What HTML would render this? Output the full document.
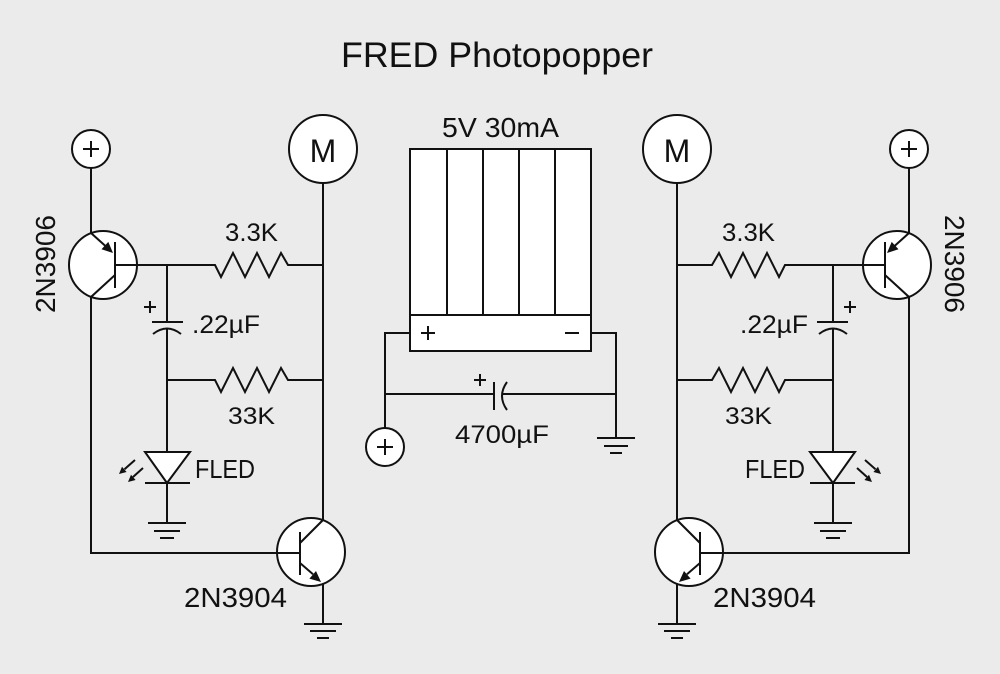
<!DOCTYPE html>
<html>
<head>
<meta charset="utf-8">
<style>
  html, body { margin: 0; padding: 0; background: #ebebeb; }
  svg { display: block; }
  text { font-family: "Liberation Sans", "DejaVu Sans", sans-serif; fill: #111; }
</style>
</head>
<body>
<svg width="1000" height="674" viewBox="0 0 1000 674" xmlns="http://www.w3.org/2000/svg">
  <rect x="0" y="0" width="1000" height="674" fill="#ebebeb"/>

  <defs>
    <g id="half" stroke="#111" stroke-width="2" fill="none" stroke-linecap="butt">
      <!-- circles -->
      <circle cx="91" cy="149" r="19" fill="#fff"/>
      <circle cx="323" cy="149" r="34" fill="#fff"/>
      <circle cx="103" cy="265" r="34" fill="#fff"/>
      <circle cx="311" cy="552" r="34" fill="#fff"/>
      <!-- plus in circle -->
      <path d="M83 149 H99 M91 141 V157"/>
      <!-- PNP -->
      <path d="M91 168 V233 L106 246.5"/>
      <polygon points="113,253 101.5,249.3 108.3,241.9" fill="#111" stroke="none"/>
      <path d="M115 242 V288"/>
      <path d="M115 275 L91 297 V553 H300"/>
      <path d="M115 265 H215 L221 277 L233 253 L245 277 L257 253 L269 277 L281 253 L288 265 H323"/>
      <!-- motor wire -->
      <path d="M323 183 V520"/>
      <!-- cap .22uF -->
      <path d="M167 265 V322"/>
      <path d="M152 322 H183"/>
      <path d="M153 334 Q167 323 181 334"/>
      <path d="M144 307 H156 M150 301 V313"/>
      <path d="M167 329 V452"/>
      <!-- 33K -->
      <path d="M167 380 H215 L221 392 L233 368 L245 392 L257 368 L269 392 L281 368 L288 380 H323"/>
      <!-- LED -->
      <polygon points="145,452 190,452 167,483" fill="#fff"/>
      <path d="M145 483 H190 M167 483 V523"/>
      <path d="M148 523 H186 M154 531 H180 M160 538 H174"/>
      <path d="M135 460 L124.5 469.2 M143 468 L133 477"/>
      <polygon points="119,474 126.6,472 122,466.8" fill="#111" stroke="none"/>
      <polygon points="128,482 135.6,480 131,474.8" fill="#111" stroke="none"/>
      <!-- NPN -->
      <path d="M300 532 V575"/>
      <path d="M300 543 L323 520"/>
      <path d="M300 563 L313 574.3"/>
      <polygon points="321,582 309.4,578.6 316,571" fill="#111" stroke="none"/>
      <path d="M323 584 V624"/>
      <path d="M304 624 H342 M310 631 H336 M317 638 H329"/>
    </g>
  </defs>

  <use href="#half"/>
  <use href="#half" transform="translate(1000,0) scale(-1,1)"/>

  <!-- center block -->
  <g stroke="#111" stroke-width="2" fill="none">
    <rect x="410" y="149" width="181" height="202" fill="#fff"/>
    <path d="M447 149 V315 M483 149 V315 M519 149 V315 M555 149 V315 M410 315 H591"/>
    <path d="M421 333 H435 M428 326 V340"/>
    <path d="M565 333 H579"/>
    <path d="M410 333 H385 V428"/>
    <circle cx="385" cy="447" r="19" fill="#fff"/>
    <path d="M377 447 H393 M385 439 V455"/>
    <path d="M591 333 H616 V438"/>
    <path d="M597 438 H635 M604 446 H628 M610 453 H622"/>
    <path d="M385 394 H494 M494 382 V410"/>
    <path d="M507 382 Q497 396 507 410"/>
    <path d="M502 394 H616"/>
    <path d="M474 380 H486 M480 374 V386"/>
  </g>

  <!-- text -->
  <text x="341" y="67" font-size="35" textLength="312" lengthAdjust="spacingAndGlyphs">FRED Photopopper</text>
  <text x="442" y="137" font-size="28" textLength="117" lengthAdjust="spacingAndGlyphs">5V 30mA</text>
  <text x="455" y="443" font-size="25" textLength="94" lengthAdjust="spacingAndGlyphs">4700µF</text>

  <text x="323" y="162" font-size="32" text-anchor="middle">M</text>
  <text x="677" y="162" font-size="32" text-anchor="middle">M</text>

  <text x="225" y="241" font-size="25" textLength="53" lengthAdjust="spacingAndGlyphs">3.3K</text>
  <text x="722" y="241" font-size="25" textLength="53" lengthAdjust="spacingAndGlyphs">3.3K</text>

  <text x="192" y="333" font-size="25" textLength="68" lengthAdjust="spacingAndGlyphs">.22µF</text>
  <text x="740" y="333" font-size="25" textLength="68" lengthAdjust="spacingAndGlyphs">.22µF</text>

  <text x="228" y="424" font-size="24" textLength="47" lengthAdjust="spacingAndGlyphs">33K</text>
  <text x="725" y="424" font-size="24" textLength="47" lengthAdjust="spacingAndGlyphs">33K</text>

  <text x="195" y="478" font-size="26" textLength="60" lengthAdjust="spacingAndGlyphs">FLED</text>
  <text x="745" y="478" font-size="26" textLength="60" lengthAdjust="spacingAndGlyphs">FLED</text>

  <text x="184" y="607" font-size="28" textLength="103" lengthAdjust="spacingAndGlyphs">2N3904</text>
  <text x="713" y="607" font-size="28" textLength="103" lengthAdjust="spacingAndGlyphs">2N3904</text>

  <text transform="translate(55,313) rotate(-90)" font-size="28" textLength="98" lengthAdjust="spacingAndGlyphs">2N3906</text>
  <text transform="translate(945,215) rotate(90)" font-size="28" textLength="98" lengthAdjust="spacingAndGlyphs">2N3906</text>
</svg>
</body>
</html>
